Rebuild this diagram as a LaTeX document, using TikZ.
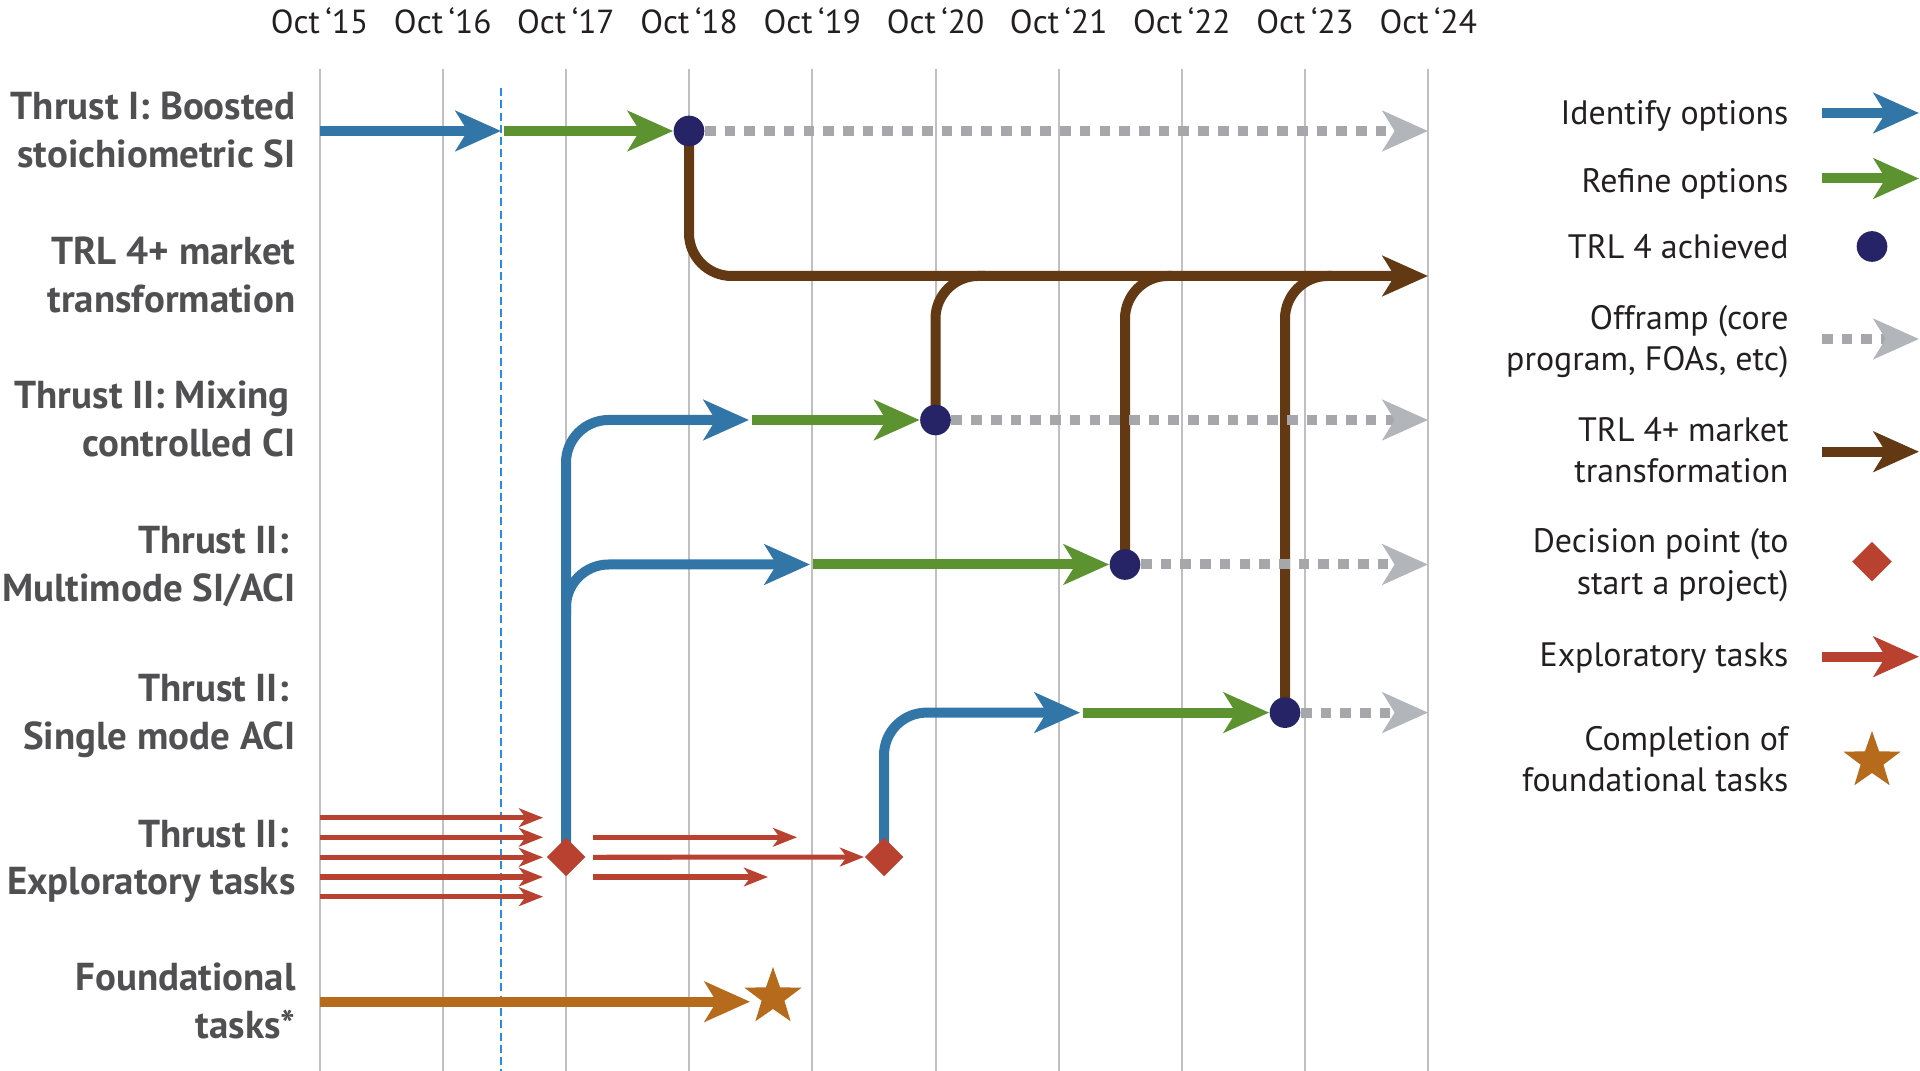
\documentclass[tikz,border=0pt]{standalone}
\usepackage{fontspec}
\setmainfont{PT Sans}
\usetikzlibrary{arrows.meta,shapes.geometric,calc}
\definecolor{cblue}{RGB}{50,118,168}
\definecolor{cgreen}{RGB}{92,147,48}
\definecolor{cnavy}{RGB}{38,36,102}
\definecolor{cgreyd}{RGB}{166,167,170}
\definecolor{cgreyh}{RGB}{178,181,185}
\definecolor{cbrown}{RGB}{99,57,19}
\definecolor{cred}{RGB}{185,65,47}
\definecolor{corange}{RGB}{182,106,28}
\definecolor{clabel}{RGB}{80,80,82}
\definecolor{ctext}{RGB}{35,31,32}
\definecolor{cgrid}{RGB}{192,192,194}
\definecolor{cdash}{RGB}{40,140,228}
\pgfdeclarelayer{gridlayer}
\pgfdeclarelayer{linelayer}
\pgfsetlayers{gridlayer,linelayer,main}
\tikzset{
  bighead/.style={-{Stealth[length=17pt,width=15pt,inset=4.5pt]}},
  flow/.style={line width=3.75pt,bighead},
  identify/.style={flow,draw=cblue},
  refine/.style={flow,draw=cgreen},
  market/.style={flow,draw=cbrown},
  offramp/.style={line width=3.75pt,draw=cgreyd,dash pattern=on 4pt off 3.4pt,
    -{Stealth[length=17pt,width=15pt,inset=4.5pt,color=cgreyh]}},
  explore/.style={line width=1.9pt,draw=cred,-{Stealth[length=9pt,width=7pt,inset=2.5pt]}},
  explorebig/.style={flow,draw=cred},
  found/.style={flow,draw=corange},
  branch/.style={line width=3.75pt,draw=cbrown,rounded corners=16pt},
  gridline/.style={draw=cgrid,line width=0.75pt},
  todayline/.style={draw=cdash,line width=0.6pt,dash pattern=on 3pt off 1.6pt},
  milestone/.style={circle,fill=cnavy,inner sep=0pt,minimum size=11.5pt},
  decision/.style={diamond,fill=cred,inner sep=0pt,minimum size=14.6pt},
  completion/.style={star,star points=5,star point ratio=2.5,fill=corange,inner sep=0pt,minimum size=22.5pt},
  rowlabel/.style={anchor=east,align=right,inner sep=0pt,text=clabel,font=\fontsize{14.6}{17.8}\selectfont\bfseries},
  legendtext/.style={anchor=east,align=right,inner sep=0pt,text=ctext,font=\fontsize{12.7}{15.6}\selectfont},
  month/.style={text=ctext,font=\fontsize{12.5}{15}\selectfont},
}
\begin{document}
\begin{tikzpicture}[x=0.375pt,y=-0.375pt]
\useasboundingbox (0,0) rectangle (1920,1071);
% grid
\begin{pgfonlayer}{gridlayer}
\foreach \i in {0,...,9}{
  \draw[gridline] (319.5+123.2*\i,69) -- (319.5+123.2*\i,1071);
}
\draw[todayline] (501,88) -- (501,1071);
\end{pgfonlayer}
% month labels
\foreach \i/\yr in {0/15,1/16,2/17,3/18,4/19,5/20,6/21,7/22,8/23,9/24}{
  \node[month] (oct\yr) at (319.5+123.2*\i,21) {Oct\,‘\yr};
}
% row labels
\node[rowlabel] (lab1) at (296,130) {Thrust I: Boosted\\stoichiometric SI};
\node[rowlabel] (lab2) at (296,275) {TRL 4+ market\\transformation};
\node[rowlabel] (lab3) at (296,419) {Thrust II: Mixing\kern2.2pt\\controlled CI};
\node[rowlabel] (lab4) at (296,566.5) {Thrust II:\kern2.6pt\\Multimode SI/ACI};
\node[rowlabel] (lab5) at (296,716) {Thrust II:\kern2.6pt\\Single mode ACI};
\node[rowlabel] (lab6) at (296,861.5) {Thrust II:\kern2.6pt\\Exploratory tasks};
\node[rowlabel] (lab7) at (296,1001) {Foundational\\tasks*};
% milestones
\node[milestone] (d1) at (689,131) {};
\node[milestone] (dmix) at (935.5,420) {};
\node[milestone] (dmm) at (1125,564.5) {};
\node[milestone] (dsm) at (1285,712.6) {};
\node[decision] (q1) at (566,857) {};
\node[decision] (q2) at (884,857) {};
\node[completion] (star) at (773,997) {};
% coordinates
\coordinate (t1s) at (320,131);
\coordinate (t1b) at (501,131);
\coordinate (t1g) at (504,131);
\coordinate (t1e) at (1428,131);
\coordinate (mkt) at (1428,276);
\coordinate (j1) at (985,276);
\coordinate (j2) at (1172,276);
\coordinate (j3) at (1332,276);
\coordinate (mixb) at (749,420);
\coordinate (mixg) at (752,420);
\coordinate (mixe) at (1428,420);
\coordinate (trunkbr) at (566,615);
\coordinate (mmb) at (810,564.5);
\coordinate (mmg) at (812.5,564.5);
\coordinate (mme) at (1428,564.5);
\coordinate (smb) at (1080,712.6);
\coordinate (smg) at (1082.5,712.6);
\coordinate (sme) at (1428,712.6);
\coordinate (e1s) at (320,817.7);
\coordinate (e2s) at (320,837.3);
\coordinate (e3s) at (320,857.3);
\coordinate (e4s) at (320,877);
\coordinate (e5s) at (320,896.7);
\coordinate (e1e) at (543,817.7);
\coordinate (e2e) at (543,837.3);
\coordinate (e3e) at (543,857.3);
\coordinate (e4e) at (543,877);
\coordinate (e5e) at (543,896.7);
\coordinate (r1s) at (593,837.3);
\coordinate (r1e) at (797,837.3);
\coordinate (r2s) at (593,857.3);
\coordinate (r3s) at (593,877);
\coordinate (r3e) at (768,877);
\coordinate (fs) at (320,1001.7);
\coordinate (fe) at (750,1001.7);
% connectors
\begin{pgfonlayer}{linelayer}
\draw[identify] (t1s) -- (t1b);
\draw[refine] (t1g) -- (d1);
\draw[offramp] (d1) -- (t1e);
\draw[market,rounded corners=16pt] (d1.center) |- (mkt);
\draw[branch] (dmix.center) |- (j1);
\draw[branch] (dmm.center) |- (j2);
\draw[branch] (dsm.center) |- (j3);
\draw[identify,rounded corners=16pt] (q1.center) |- (mixb);
\draw[identify,rounded corners=16pt] (trunkbr) |- (mmb);
\draw[refine] (mixg) -- (dmix);
\draw[offramp] (dmix) -- (mixe);
\draw[refine] (mmg) -- (dmm);
\draw[offramp] (dmm) -- (mme);
\draw[identify,rounded corners=16pt] (q2.center) |- (smb);
\draw[refine] (smg) -- (dsm);
\draw[offramp] (dsm) -- (sme);
\foreach \k in {1,...,5}{\draw[explore] (e\k s) -- (e\k e);}
\draw[explore] (r1s) -- (r1e);
\draw[explore] (r2s) -- (q2);
\draw[explore] (r3s) -- (r3e);
\draw[found] (fs) -- (fe);
\end{pgfonlayer}
% legend
\node[legendtext] (lg1) at (1789,116) {Identify options};
\node[legendtext] (lg2) at (1789,183.5) {Refine options};
\node[legendtext] (lg3) at (1789,246.5) {TRL 4 achieved};
\node[legendtext] (lg4) at (1789,341.5) {Offramp (core\\program, FOAs, etc)};
\node[legendtext] (lg5) at (1789,450) {TRL 4+ market\\transformation};
\node[legendtext] (lg6) at (1789,565) {Decision point (to\\start a project)};
\node[legendtext] (lg7) at (1789,658.5) {Exploratory tasks};
\node[legendtext] (lg8) at (1789,759) {Completion of\\foundational tasks};
\coordinate (lg1a) at (1822,113); \coordinate (lg1b) at (1919,113);
\coordinate (lg2a) at (1822,178.5); \coordinate (lg2b) at (1919,178.5);
\coordinate (lg4a) at (1822,339); \coordinate (lg4b) at (1919,339);
\coordinate (lg5a) at (1822,451.7); \coordinate (lg5b) at (1919,451.7);
\coordinate (lg7a) at (1822,656.7); \coordinate (lg7b) at (1919,656.7);
\draw[identify] (lg1a) -- (lg1b);
\draw[refine] (lg2a) -- (lg2b);
\node[milestone] (lgdot) at (1872,246.5) {};
\draw[offramp] (lg4a) -- (lg4b);
\draw[market] (lg5a) -- (lg5b);
\node[decision,minimum size=15pt] (lgdia) at (1872,561.7) {};
\draw[explorebig] (lg7a) -- (lg7b);
\node[completion] (lgstar) at (1872,761) {};
\end{tikzpicture}
\end{document}
